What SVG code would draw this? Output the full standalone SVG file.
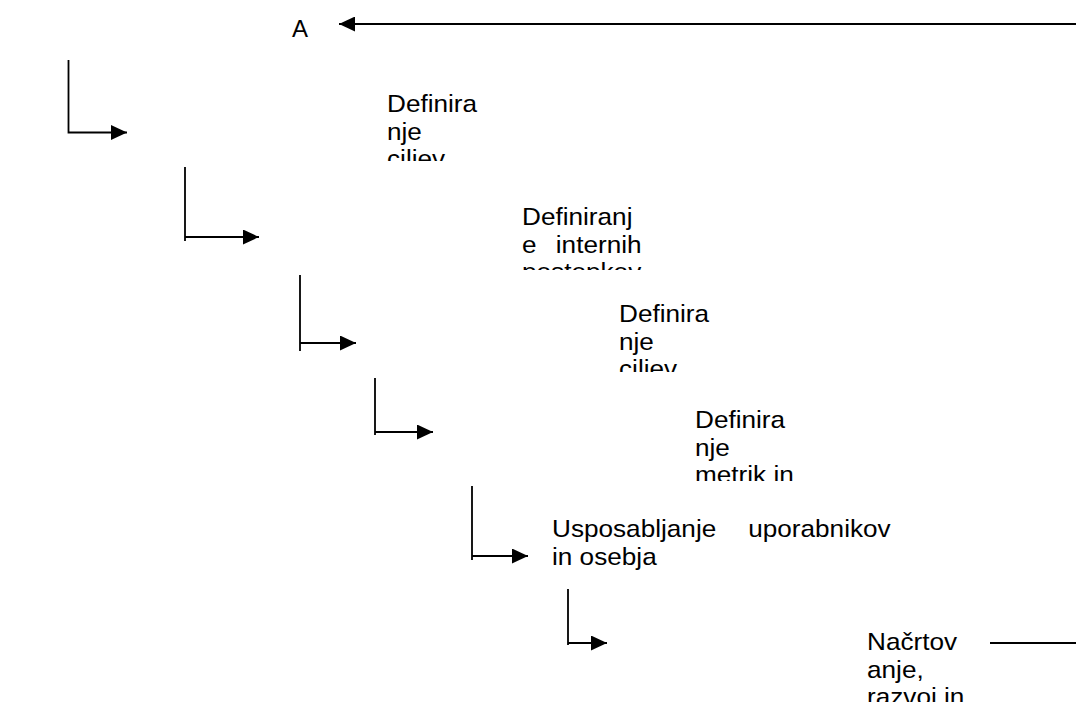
<svg xmlns="http://www.w3.org/2000/svg" width="1076" height="702" viewBox="0 0 1076 702">
<style>
.t{font-family:"Liberation Sans",Arial,sans-serif;font-size:24px;fill:#000}
.c{fill:none;stroke:#000;stroke-width:1.8}
</style>
<defs>
<marker id="ah" viewBox="0 0 16 15" refX="16" refY="7.5" markerWidth="16" markerHeight="15" markerUnits="userSpaceOnUse" orient="auto">
<path d="M0,0 L16,7.5 L0,15 z" fill="#000"/>
</marker>
<clipPath id="c1"><rect x="380" y="80" width="130" height="81"/></clipPath>
<clipPath id="c2"><rect x="515" y="190" width="150" height="80"/></clipPath>
<clipPath id="c3"><rect x="612" y="295" width="120" height="77"/></clipPath>
<clipPath id="c4"><rect x="688" y="400" width="130" height="81"/></clipPath>
<clipPath id="c6"><rect x="860" y="620" width="130" height="82"/></clipPath>
</defs>
<rect width="1076" height="702" fill="#fff"/>
<g id="connectors">
<path class="c" d="M1076,24 H339" marker-end="url(#ah)"/>
<path class="c" d="M68.5,60 V133.5 M68.5,132.5 H127" marker-end="url(#ah)"/>
<path class="c" d="M185,167 V241 M185,237 H259" marker-end="url(#ah)"/>
<path class="c" d="M300,275 V351 M300,343 H356" marker-end="url(#ah)"/>
<path class="c" d="M375,378 V435 M375,432 H433" marker-end="url(#ah)"/>
<path class="c" d="M472,486 V560 M472,556 H528" marker-end="url(#ah)"/>
<path class="c" d="M568,589 V645 M568,643 H607" marker-end="url(#ah)"/>
<path class="c" d="M990,643 H1076"/>
</g>
<g id="nodeA"><text class="t" x="292" y="37">A</text></g>
<g id="node1" clip-path="url(#c1)"><g transform="matrix(1.09 0 0 1 387 0)"><text class="t" x="0" y="112">Definira</text><text class="t" x="0" y="139.6">nje</text><text class="t" x="0" y="167.2">ciljev</text></g></g>
<g id="node2" clip-path="url(#c2)"><g transform="matrix(1.09 0 0 1 522 0)"><text class="t" x="0" y="225">Definiranj</text><text class="t" y="252.6"><tspan x="0">e</tspan><tspan x="31">internih</tspan></text><text class="t" x="0" y="280.2">postopkov</text></g></g>
<g id="node3" clip-path="url(#c3)"><g transform="matrix(1.09 0 0 1 619 0)"><text class="t" x="0" y="322">Definira</text><text class="t" x="0" y="349.6">nje</text><text class="t" x="0" y="377.2">ciljev</text></g></g>
<g id="node4" clip-path="url(#c4)"><g transform="matrix(1.09 0 0 1 695 0)"><text class="t" x="0" y="428">Definira</text><text class="t" x="0" y="455.6">nje</text><text class="t" x="0" y="483.2">metrik in</text></g></g>
<g id="node5"><g transform="matrix(1.09 0 0 1 552 0)"><text class="t" y="537"><tspan x="0">Usposabljanje</tspan><tspan x="180">uporabnikov</tspan></text><text class="t" x="0" y="565">in osebja</text></g></g>
<g id="node6" clip-path="url(#c6)"><g transform="matrix(1.09 0 0 1 867 0)"><text class="t" x="0" y="650">Načrtov</text><text class="t" x="0" y="677.6">anje,</text><text class="t" x="0" y="705.2">razvoj in</text></g></g>
</svg>
